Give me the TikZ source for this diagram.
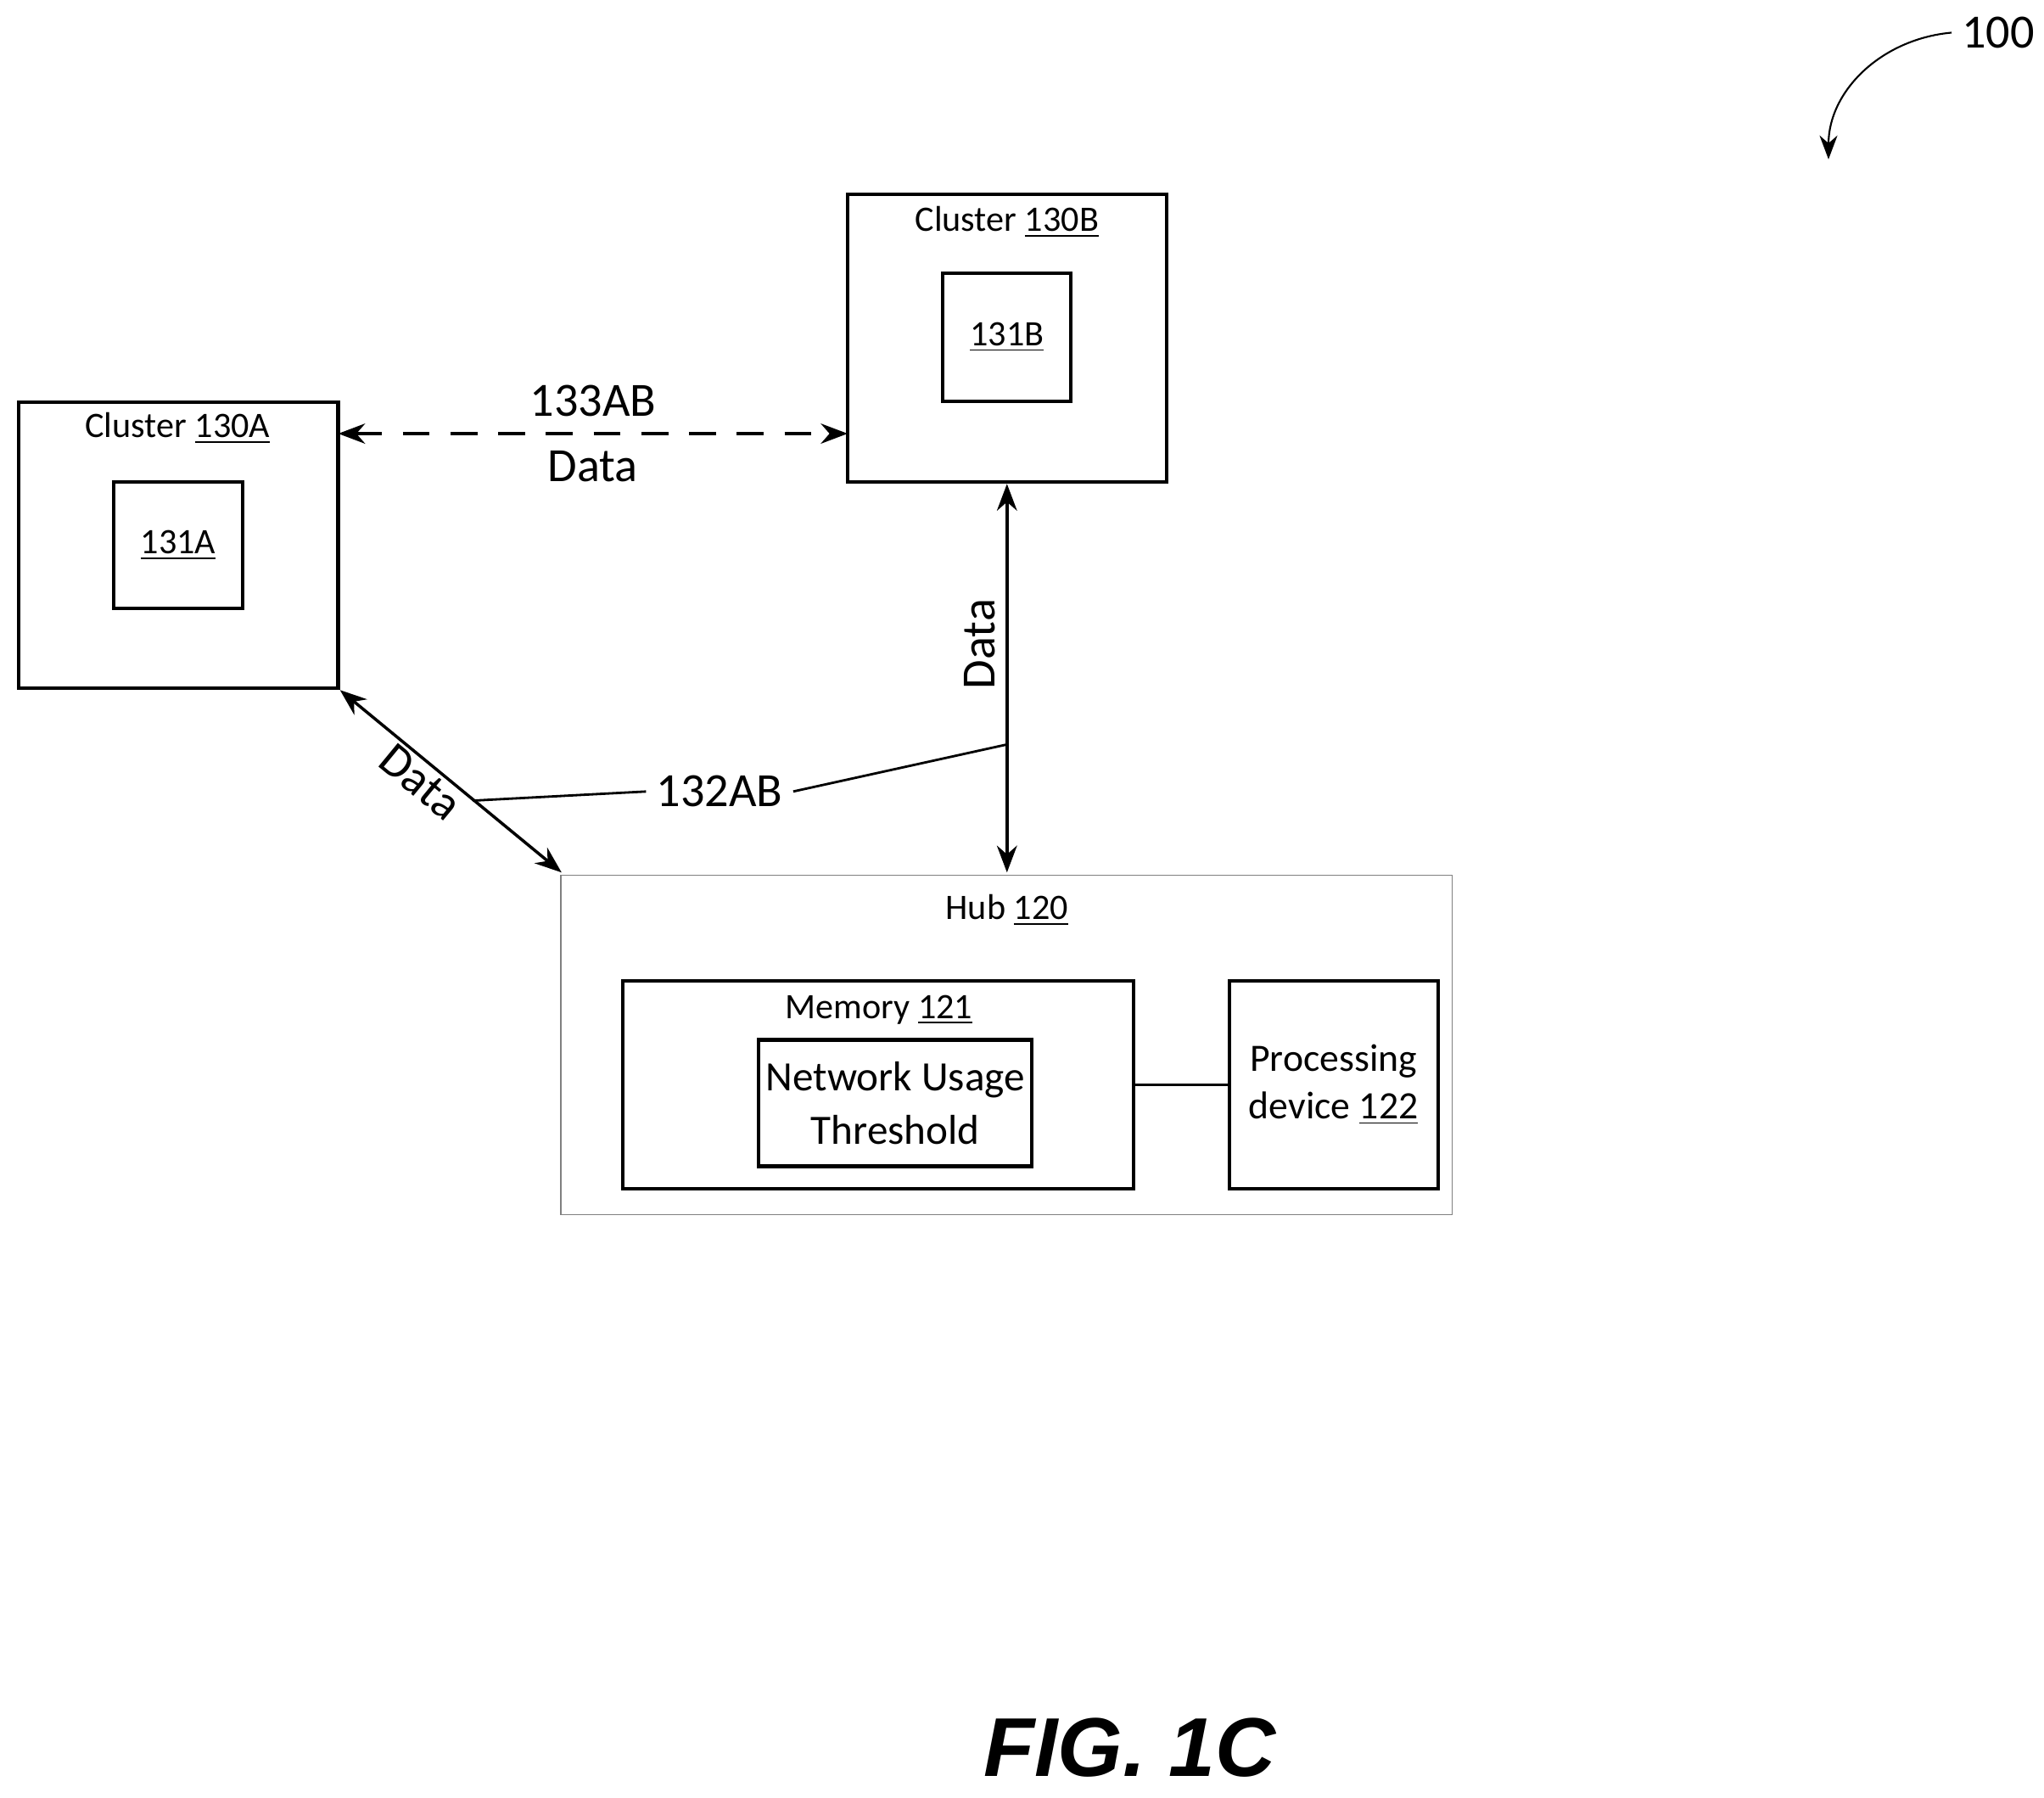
\documentclass[tikz,border=0pt]{standalone}
\usepackage{fontspec}
\setmainfont{Carlito}
\usetikzlibrary{positioning,arrows.meta}
\begin{document}
\begin{tikzpicture}[x=0.01539cm, y=-0.01539cm,
  box/.style={rectangle, draw, line width=1.2pt, inner sep=0pt},
  thin box/.style={rectangle, draw=gray, line width=0.5pt, inner sep=0pt},
  lbl/.style={font=\fontsize{12}{14}\selectfont},
  big/.style={font=\fontsize{16}{19}\selectfont},
  link/.style={{Stealth[length=9pt]}-{Stealth[length=9pt]}, line width=1pt}]
  {
  \useasboundingbox (0,0) rectangle (1565,1376);
  % clusters
  \node[box, minimum width=3.77cm, minimum height=3.37cm] (c130A) at (136.5,417.5) {};
  \node[lbl] at (136,328) {Cluster \underline{130A}};
  \node[box, minimum width=1.52cm, minimum height=1.49cm, lbl] (c131A) at (136.5,417.5) {\underline{131A}};
  \node[box, minimum width=3.76cm, minimum height=3.39cm] (c130B) at (771,259) {};
  \node[lbl] at (771,170) {Cluster \underline{130B}};
  \node[box, minimum width=1.51cm, minimum height=1.51cm, lbl] (c131B) at (771,258) {\underline{131B}};
  % hub
  \node[thin box, minimum width=10.51cm, minimum height=4.00cm] (hub) at (770.5,800) {};
  \node[lbl] at (771,697) {Hub \underline{120}};
  \node[box, minimum width=6.02cm, minimum height=2.45cm] (mem) at (672.5,830.5) {};
  \node[lbl] at (673,773) {Memory \underline{121}};
  \node[box, minimum width=3.22cm, minimum height=1.49cm, align=center, font=\fontsize{14}{18}\selectfont] (nut) at (685.5,844.5) {Network Usage\\Threshold};
  \node[box, minimum width=2.46cm, minimum height=2.45cm, align=center, font=\fontsize{13}{16}\selectfont] (proc) at (1021,830.5) {Processing\\device \underline{122}};
  \draw[line width=0.8pt] (mem) -- (proc);
  % links
  \coordinate (aR) at (259,332);
  \coordinate (bL) at (649,332);
  \draw[link, dash pattern=on 9pt off 7pt] (aR) -- node[big, above=2pt] {133AB} node[big, below=2pt] {Data} (bL);
  \coordinate (hubT) at (771,668);
  \draw[link] (c130B.south) -- node[pos=0.42, big, rotate=90, above=1pt] {Data} (hubT);
  \coordinate (hubL) at (430,668);
  \draw[link] (c130A.south east) -- node[pos=0.42, big, sloped, below=0pt, inner sep=1pt] {Data} (hubL);
  \node[big] (l132) at (551,606) {132AB};
  \draw[line width=0.8pt] (l132.west) -- (362,613);
  \draw[line width=0.8pt] (l132.east) -- (771,570);
  % reference numeral
  \node[big] (n100) at (1530,25) {100};
  \draw[-{Stealth[length=8pt]}, line width=0.6pt] (n100.west) .. controls (1440,30) and (1400,70) .. (1400,122);
  \node[font=\fontsize{28}{32}\selectfont\bfseries\itshape\fontspec{Liberation Sans}] at (865,1338) {FIG. 1C};
  }
\end{tikzpicture}
\end{document}
